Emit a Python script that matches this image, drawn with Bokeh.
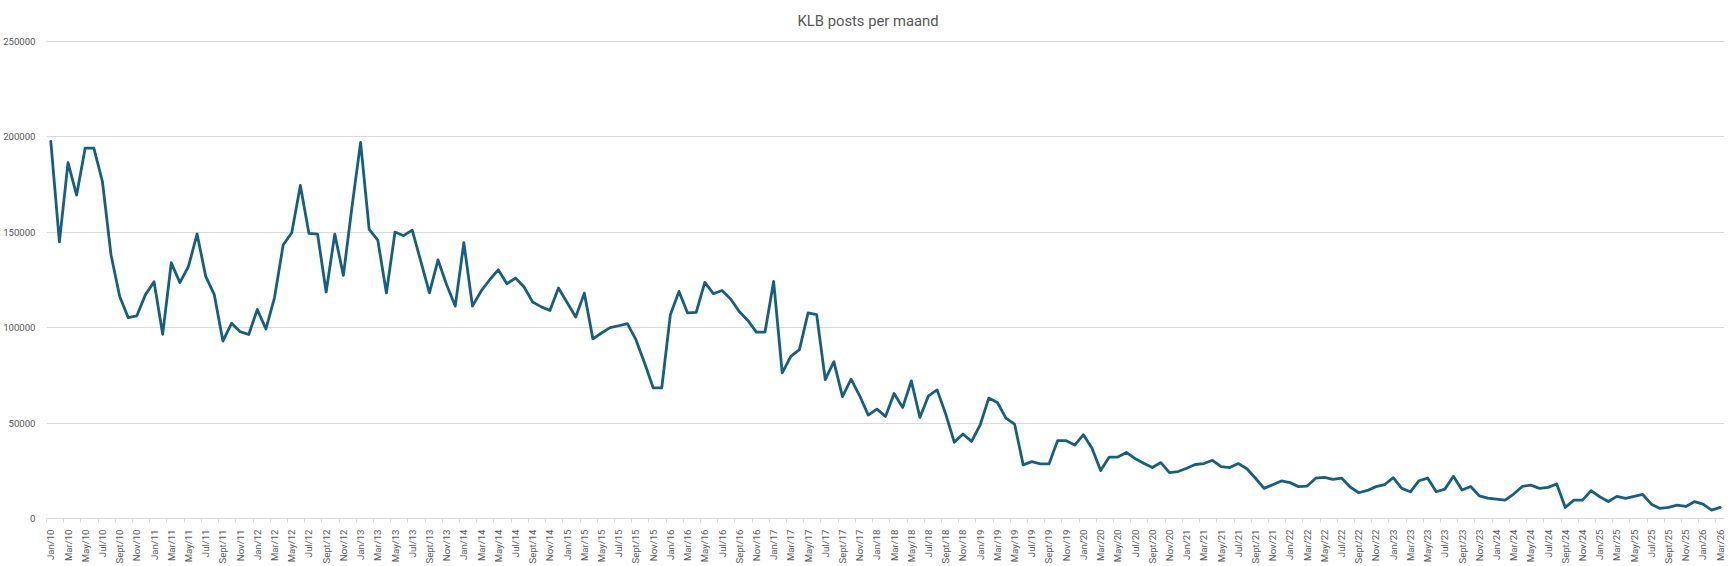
import math
from bokeh.plotting import figure
from bokeh.models import Range1d, FixedTicker, NumeralTickFormatter, Title
from bokeh.embed import file_html
from bokeh.resources import INLINE

# ---- data ----
month_names = ["Jan", "Feb", "Mar", "Apr", "May", "Jun",
               "Jul", "Aug", "Sept", "Oct", "Nov", "Dec"]
years = [2010, 2011, 2012, 2013, 2014, 2015, 2016, 2017,
         2018, 2019, 2020, 2021, 2022, 2023, 2024, 2025, 2026]

posts_2010 = [197600, 145000, 186500, 169500, 194100, 194100, 176600, 138100, 116500, 105200, 106200, 117300]
posts_2011 = [124100, 96500, 134000, 123600, 132100, 149100, 126900, 117300, 93000, 102300, 97900, 96400]
posts_2012 = [109500, 99300, 115800, 143300, 149700, 174500, 149400, 149000, 118700, 149000, 127400, 163300]
posts_2013 = [197100, 151500, 145900, 118200, 150100, 148200, 151100, 134700, 118200, 135500, 122500, 111300]
posts_2014 = [144500, 111300, 119100, 125100, 130300, 123000, 126000, 121300, 113400, 110900, 109000, 120800]
posts_2015 = [113200, 105600, 118100, 94100, 97200, 100000, 101000, 102100, 93700, 81500, 68500, 68500]
posts_2016 = [106800, 119000, 107700, 108000, 123700, 117800, 119500, 115000, 108500, 103800, 97700, 97700]
posts_2017 = [124200, 76300, 85000, 88500, 107700, 106800, 72800, 82200, 63900, 73000, 64300, 54200]
posts_2018 = [57300, 53500, 65500, 58200, 72100, 53000, 64300, 67400, 54700, 39900, 44300, 40400]
posts_2019 = [49000, 63100, 60800, 52600, 49500, 28100, 29800, 28600, 28600, 40800, 40800, 38500]
posts_2020 = [43900, 36800, 25100, 32200, 32200, 34600, 31400, 29000, 26700, 29300, 24000, 24600]
posts_2021 = [26300, 28300, 28800, 30500, 27200, 26700, 28800, 26100, 21100, 15800, 17700, 19700]
posts_2022 = [18800, 16700, 17000, 21100, 21600, 20500, 21200, 16500, 13500, 14700, 16700, 17700]
posts_2023 = [21400, 15800, 14000, 19800, 21200, 14000, 15400, 22100, 14900, 16800, 11900, 10700]
posts_2024 = [10200, 9600, 12800, 16800, 17500, 15800, 16300, 18100, 5800, 9600, 9600, 14600]
posts_2025 = [11400, 8900, 11600, 10500, 11600, 12600, 7500, 5300, 5800, 7000, 6300, 8800]
posts_2026 = [7500, 4400, 5800]

yearly = [posts_2010, posts_2011, posts_2012, posts_2013, posts_2014, posts_2015,
          posts_2016, posts_2017, posts_2018, posts_2019, posts_2020, posts_2021,
          posts_2022, posts_2023, posts_2024, posts_2025, posts_2026]

y_ticks = [0, 50000, 100000, 150000, 200000, 250000]
title_text = "KLB posts per maand"

# ---- build series ----
values = []
labels = []
for yr, vals in zip(years, yearly):
    for m, v in enumerate(vals):
        values.append(v)
        labels.append(f"{month_names[m]}/{str(yr)[2:]}")
xs = list(range(len(values)))

label_ticks = [i for i in xs if i % 2 == 0]
overrides = {i: labels[i] for i in label_ticks}

FONT = "Roboto"
TXT = "#595959"
GRID = "#d9d9d9"

W, H = 1732, 566
LEFT, RIGHT, TOP, BOTTOM = 46, 8, 38, 46

p = figure(width=W, height=H, output_backend="svg", toolbar_location=None,
           x_range=Range1d(-0.5, len(values) - 0.5), y_range=Range1d(0, 251000),
           min_border_left=LEFT, min_border_right=RIGHT, min_border_top=TOP,
           min_border_bottom=BOTTOM)
p.outline_line_color = None
p.background_fill_color = "white"
p.border_fill_color = "white"

p.line(xs, values, line_color="#156082", line_width=2.8, line_join="round", line_cap="round")

# title (left-aligned with an offset so that it sits centred on the page)
p.title = Title(text=title_text, align="left", offset=751, text_font=FONT,
                text_font_size="14.8px", text_font_style="normal", text_color=TXT,
                text_line_height=1.0, standoff=19)

# x axis
xa = p.xaxis[0]
xa.axis_label = None
xa.ticker = FixedTicker(ticks=label_ticks, minor_ticks=[i - 0.5 for i in label_ticks])
xa.major_label_overrides = overrides
xa.major_label_orientation = math.pi / 2
xa.major_tick_out = 0
xa.major_tick_in = 0
xa.minor_tick_out = 4
xa.minor_tick_in = 0
xa.minor_tick_line_color = GRID
xa.axis_line_color = GRID
xa.major_label_text_font = FONT
xa.major_label_text_font_size = "9.6px"
xa.major_label_text_color = TXT
xa.major_label_standoff = 7

# y axis
ya = p.yaxis[0]
ya.axis_label = None
ya.ticker = FixedTicker(ticks=y_ticks)
ya.formatter = NumeralTickFormatter(format="0")
ya.axis_line_color = None
ya.major_tick_out = 0
ya.major_tick_in = 0
ya.minor_tick_out = 0
ya.minor_tick_in = 0
ya.major_label_text_font = FONT
ya.major_label_text_font_size = "9.6px"
ya.major_label_text_color = TXT
ya.major_label_standoff = 11

p.xgrid.grid_line_color = None
p.ygrid.grid_line_color = GRID
p.ygrid.grid_line_width = 1

open("out.html", "w").write(file_html(p, INLINE))
